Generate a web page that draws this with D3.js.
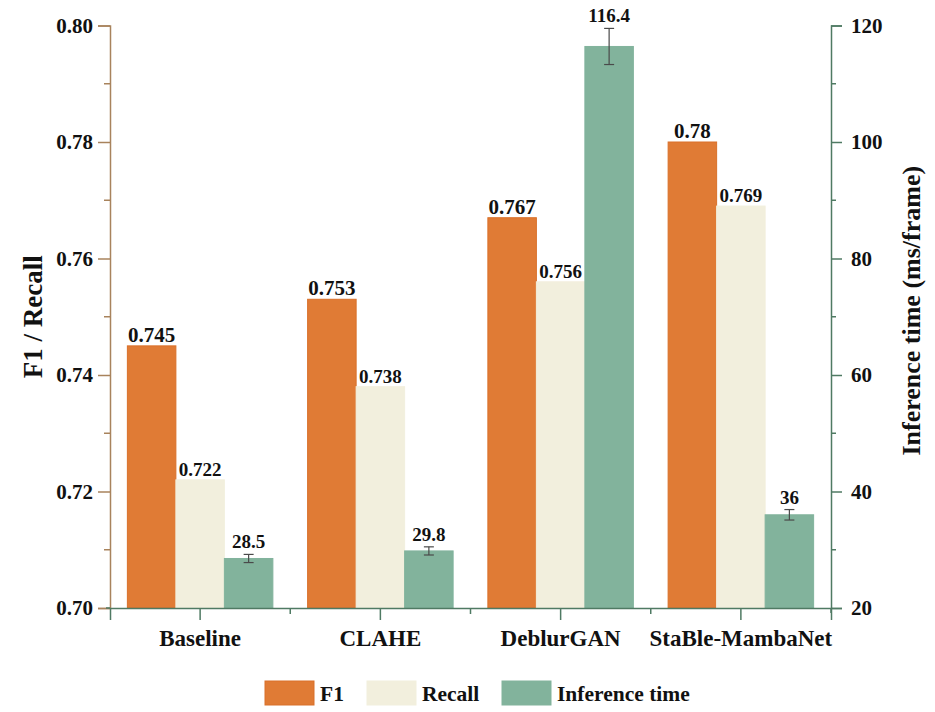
<!DOCTYPE html>
<html>
<head>
<meta charset="utf-8">
<script src="https://cdn.jsdelivr.net/npm/d3@7"></script>
<style>
  body { margin: 0; background: #fff; }
  text { font-family: "Liberation Serif", "Times New Roman", serif; font-weight: bold; }
</style>
</head>
<body>
<svg></svg>
<script>
var categories = ["Baseline", "CLAHE", "DeblurGAN", "StaBle-MambaNet"];
var f1 = [0.745, 0.753, 0.767, 0.78];
var recall = [0.722, 0.738, 0.756, 0.769];
var inference = [28.5, 29.8, 116.4, 36];
var infErr = [0.7, 0.7, 3.1, 0.9];
var f1Labels = ["0.745", "0.753", "0.767", "0.78"];
var recallLabels = ["0.722", "0.738", "0.756", "0.769"];
var infLabels = ["28.5", "29.8", "116.4", "36"];
var leftTicks = [0.70, 0.72, 0.74, 0.76, 0.78, 0.80];
var rightTicks = [20, 40, 60, 80, 100, 120];

var width = 935, height = 712;
var mLeft = 110, mRight = 831, mTop = 25.5, mBottom = 608;

var cF1 = "#e07b35", cRecall = "#f2efdd", cInf = "#82b39c";
var cLeftAxis = "#a8835c", cRightAxis = "#4f7a63";

var svg = d3.select("svg").attr("width", width).attr("height", height);

var x = d3.scaleBand().domain(categories).range([mLeft, mRight]);
var yL = d3.scaleLinear().domain([0.70, 0.80]).range([mBottom, mTop]);
var yR = d3.scaleLinear().domain([20, 120]).range([mBottom, mTop]);

var barW = 48.5;
var groupOff = (x.bandwidth() - 3 * barW) / 2;

// bars
var series = [
  {vals: f1, scale: yL, color: cF1, stroke: "#d9702a", labels: f1Labels, size: 21},
  {vals: recall, scale: yL, color: cRecall, stroke: "#f2efdd", labels: recallLabels, size: 19},
  {vals: inference, scale: yR, color: cInf, stroke: "#82b39c", labels: infLabels, size: 19}
];

series.forEach(function(s, si) {
  svg.selectAll(null).data(categories).enter().append("rect")
    .attr("x", (d, i) => x(d) + groupOff + si * barW)
    .attr("y", (d, i) => s.scale(s.vals[i]))
    .attr("width", barW)
    .attr("height", (d, i) => mBottom - s.scale(s.vals[i]))
    .attr("fill", s.color)
    .attr("stroke", s.stroke)
    .attr("stroke-width", 1);
});

// error bars
categories.forEach(function(c, i) {
  var cx = x(c) + groupOff + 2.5 * barW;
  var y1 = yR(inference[i] + infErr[i]), y2 = yR(inference[i] - infErr[i]);
  var g = svg.append("g").attr("stroke", "#4a4a4a").attr("stroke-width", 1.2);
  g.append("line").attr("x1", cx).attr("x2", cx).attr("y1", y1).attr("y2", y2);
  g.append("line").attr("x1", cx - 5).attr("x2", cx + 5).attr("y1", y1).attr("y2", y1);
  g.append("line").attr("x1", cx - 5).attr("x2", cx + 5).attr("y1", y2).attr("y2", y2);
});

// value labels
series.forEach(function(s, si) {
  svg.selectAll(null).data(categories).enter().append("text")
    .attr("x", (d, i) => x(d) + groupOff + (si + 0.5) * barW)
    .attr("y", (d, i) => {
      var t = s.scale(s.vals[i]);
      if (si == 2) t = Math.min(t, yR(s.vals[i] + infErr[i]) - 2);
      return t - 4;
    })
    .attr("text-anchor", "middle")
    .attr("font-size", s.size)
    .attr("fill", "#111")
    .text((d, i) => s.labels[i]);
});

// left axis
var leftAxis = d3.axisLeft(yL).tickValues(leftTicks).tickFormat(d3.format(".2f")).tickSizeOuter(0).tickSize(12).tickPadding(5);
var gl = svg.append("g").attr("transform", "translate(" + mLeft + ",0)").call(leftAxis);
gl.selectAll("path, line").attr("stroke", cLeftAxis).attr("stroke-width", 1.5);
gl.selectAll("text").attr("font-size", 21).attr("fill", "#111")
  .style("font-family", "Liberation Serif").style("font-weight", "bold");
gl.selectAll(null).data(d3.range(0.71, 0.80, 0.02)).enter().append("line")
  .attr("x1", 0).attr("x2", -6).attr("y1", d => yL(d)).attr("y2", d => yL(d))
  .attr("stroke", cLeftAxis).attr("stroke-width", 1.5);

// right axis
var rightAxis = d3.axisRight(yR).tickValues(rightTicks).tickSizeOuter(0).tickSize(11).tickPadding(9);
var gr = svg.append("g").attr("transform", "translate(" + mRight + ",0)").call(rightAxis);
gr.selectAll("path, line").attr("stroke", cRightAxis).attr("stroke-width", 1.5);
gr.selectAll("text").attr("font-size", 21).attr("fill", "#111")
  .style("font-family", "Liberation Serif").style("font-weight", "bold");
gr.selectAll(null).data(d3.range(30, 120, 20)).enter().append("line")
  .attr("x1", 0).attr("x2", 5).attr("y1", d => yR(d)).attr("y2", d => yR(d))
  .attr("stroke", cRightAxis).attr("stroke-width", 1.5);
gr.append("line").attr("x1", 0).attr("x2", 0).attr("y1", mBottom).attr("y2", mBottom + 5)
  .attr("stroke", cRightAxis).attr("stroke-width", 1.5);

// bottom axis
var bottomAxis = d3.axisBottom(x).tickSizeOuter(0).tickSize(12).tickPadding(10);
var gb = svg.append("g").attr("transform", "translate(0," + mBottom + ")").call(bottomAxis);
gb.selectAll("path, line").attr("stroke", cRightAxis).attr("stroke-width", 1.5);
gb.selectAll("text").attr("font-size", 23).attr("fill", "#111")
  .style("font-family", "Liberation Serif").style("font-weight", "bold");
gb.selectAll(null).data(categories.slice(1)).enter().append("line")
  .attr("x1", d => x(d)).attr("x2", d => x(d)).attr("y1", 0).attr("y2", 6)
  .attr("stroke", cRightAxis).attr("stroke-width", 1.5);
gb.append("line").attr("x1", mLeft - 4).attr("x2", mLeft).attr("y1", 0).attr("y2", 0)
  .attr("stroke", cRightAxis).attr("stroke-width", 1.5);

// axis titles
svg.append("text")
  .attr("transform", "translate(42," + ((mTop + mBottom) / 2) + ") rotate(-90)")
  .attr("text-anchor", "middle")
  .attr("font-size", 27)
  .attr("fill", "#111")
  .text("F1 / Recall");

svg.append("text")
  .attr("transform", "translate(920," + ((mTop + mBottom) / 2 - 6) + ") rotate(-90)")
  .attr("text-anchor", "middle")
  .attr("font-size", 26)
  .attr("fill", "#111")
  .text("Inference time (ms/frame)");

// legend
var legendNames = ["F1", "Recall", "Inference time"];
var legendColors = [cF1, cRecall, cInf];
var legendX = [265, 367, 502];
legendNames.forEach(function(n, i) {
  svg.append("rect").attr("x", legendX[i]).attr("y", 681).attr("width", 49).attr("height", 24)
    .attr("fill", legendColors[i]).attr("stroke", i == 0 ? "#d9702a" : legendColors[i]);
  svg.append("text").attr("x", legendX[i] + 55).attr("y", 701)
    .attr("font-size", 21.5).attr("fill", "#111").text(n);
});
</script>
</body>
</html>
